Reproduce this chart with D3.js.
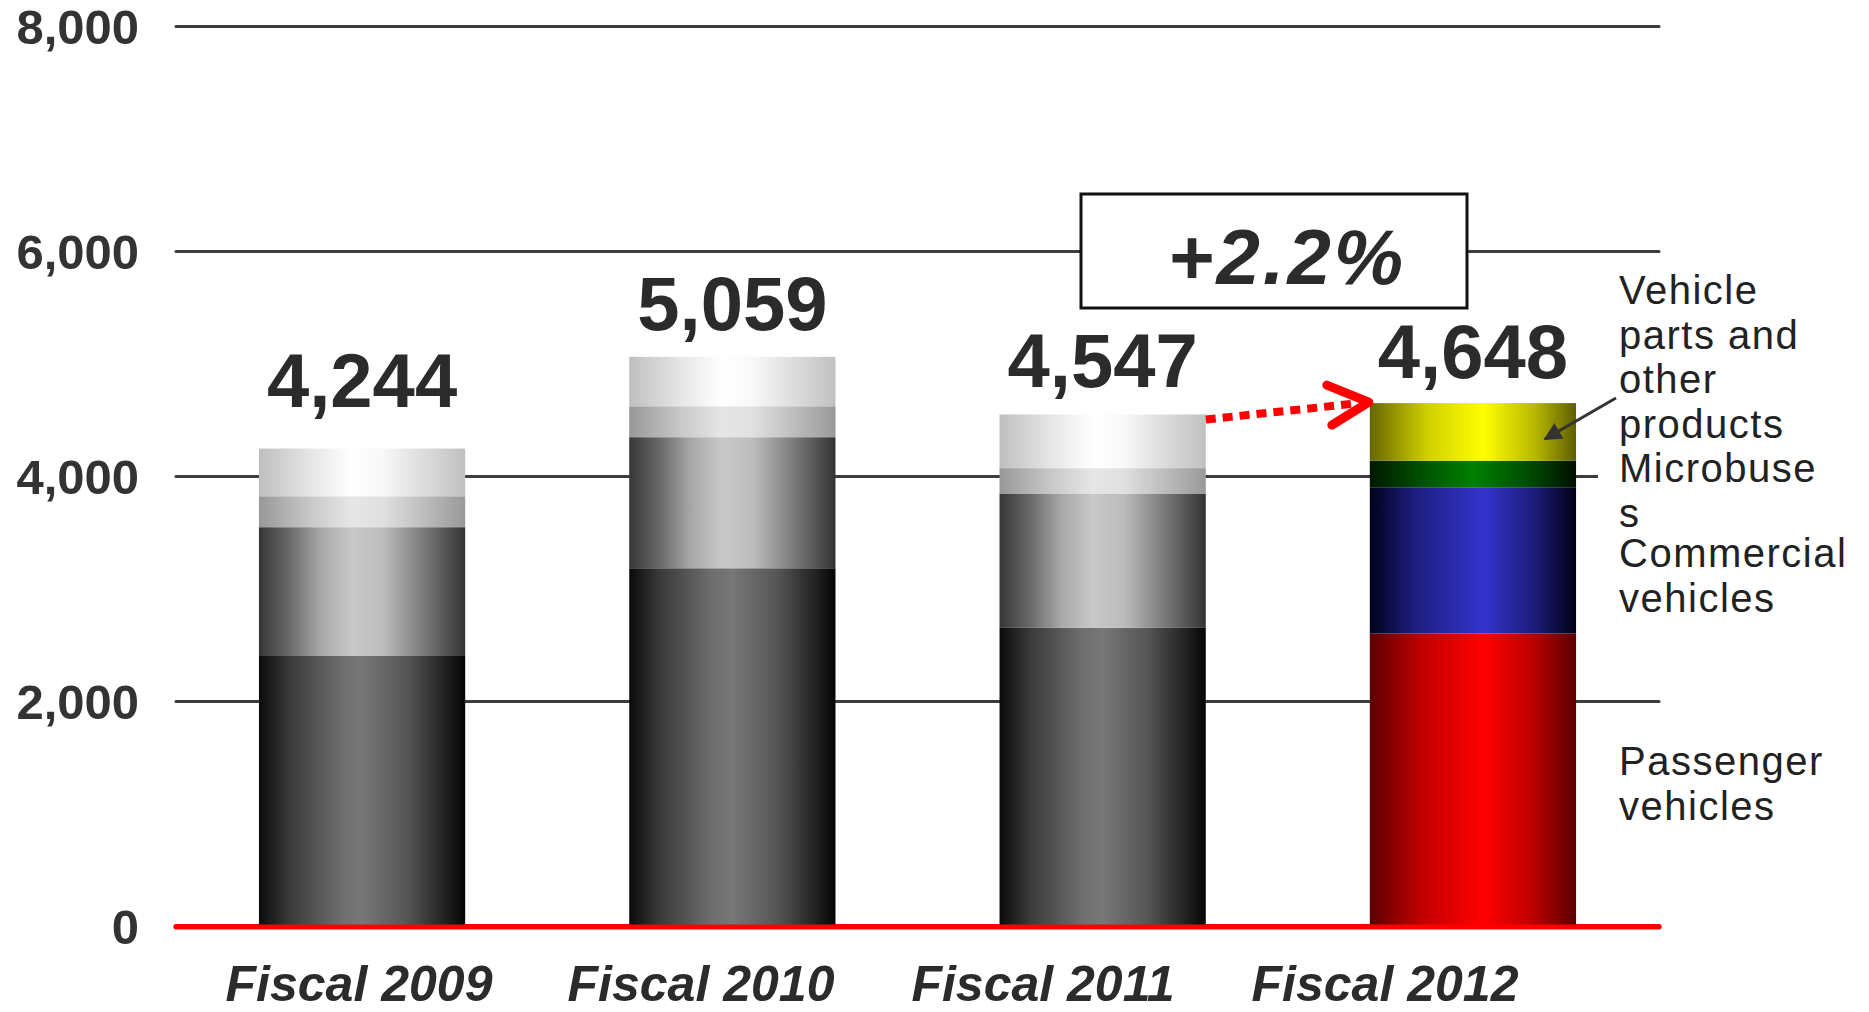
<!DOCTYPE html>
<html>
<head>
<meta charset="utf-8">
<script src="https://cdn.jsdelivr.net/npm/d3@7"></script>
<style>
  html, body { margin: 0; padding: 0; background: #fff; }
  svg { display: block; }
</style>
</head>
<body>
<svg id="chart" width="1869" height="1012"></svg>
<script>
// ---- data ----
const categories = ["Fiscal 2009", "Fiscal 2010", "Fiscal 2011", "Fiscal 2012"];
const passenger  = [2400, 3180, 2650, 2600];
const commercial = [1145, 1165, 1190, 1300];
const microbuses = [275, 275, 230, 235];
const partsOther = [424, 439, 477, 513];
const totalLabels = ["4,244", "5,059", "4,547", "4,648"];
const yTicks = [0, 2000, 4000, 6000, 8000];
const seriesKeys = ["passenger", "commercial", "microbuses", "partsOther"];
const legendLines = [
  ["Vehicle", "parts and", "other", "products"],
  ["Microbuse", "s"],
  ["Commercial", "vehicles"],
  ["Passenger", "vehicles"]
];
const changeLabel = "+2.2%";

// ---- layout ----
const svg = d3.select("#chart");
const W = 1869, H = 1012;
const plotLeft = 176, plotRight = 1659;
const x = d3.scaleBand().domain(categories).range([plotLeft, plotRight])
  .paddingInner(0.443).paddingOuter(0.224);
const xLab = d3.scalePoint().domain(categories).range([359, 1385]);
const y = d3.scaleLinear().domain([0, 8000]).range([926, 26]);
const labelGap = [42, 27, 27, 25]; // gap between bar top and total-label baseline (px)

const rows = categories.map((c, i) => ({
  cat: c, passenger: passenger[i], commercial: commercial[i],
  microbuses: microbuses[i], partsOther: partsOther[i], idx: i
}));
const stacked = d3.stack().keys(seriesKeys)(rows);

// ---- gradients ----
const defs = svg.append("defs");
const gradSpecs = {
  gray_passenger:  [[0,"#0a0a0a"],[0.15,"#3a3a3a"],[0.4,"#6e6e6e"],[0.5,"#777"],[0.72,"#555"],[0.9,"#222"],[1,"#050505"]],
  gray_commercial: [[0,"#363636"],[0.15,"#6a6a6a"],[0.3,"#a8a8a8"],[0.45,"#c8c8c8"],[0.6,"#bdbdbd"],[0.8,"#7a7a7a"],[1,"#333"]],
  gray_microbuses: [[0,"#989898"],[0.25,"#c8c8c8"],[0.45,"#e6e6e6"],[0.6,"#e0e0e0"],[0.8,"#bdbdbd"],[1,"#999"]],
  gray_partsOther: [[0,"#bfbfbf"],[0.25,"#e6e6e6"],[0.45,"#ffffff"],[0.6,"#f8f8f8"],[0.8,"#dcdcdc"],[1,"#c0c0c0"]],
  col_passenger:   [[0,"#5c0000"],[0.25,"#c00000"],[0.55,"#ff0000"],[0.78,"#c00000"],[1,"#5a0000"]],
  col_commercial:  [[0,"#00001a"],[0.22,"#1e1e80"],[0.55,"#3333cc"],[0.8,"#1c1c78"],[1,"#000015"]],
  col_microbuses:  [[0,"#001800"],[0.25,"#005000"],[0.5,"#008000"],[0.75,"#005000"],[1,"#001000"]],
  col_partsOther:  [[0,"#666600"],[0.28,"#d0d000"],[0.55,"#ffff00"],[0.8,"#b8b800"],[1,"#5e5e00"]]
};
Object.entries(gradSpecs).forEach(([id, stops]) => {
  const g = defs.append("linearGradient").attr("id", id)
    .attr("x1", "0%").attr("x2", "100%").attr("y1", "0%").attr("y2", "0%");
  stops.forEach(([o, c]) => g.append("stop").attr("offset", o).attr("stop-color", c));
});
defs.append("marker").attr("id", "ah").attr("viewBox", "0 0 10 10")
  .attr("refX", 9).attr("refY", 5).attr("markerWidth", 6).attr("markerHeight", 6)
  .attr("orient", "auto").attr("markerUnits", "strokeWidth")
  .append("path").attr("d", "M0,0 L10,5 L0,10 z").attr("fill", "#333");

// ---- axis + gridlines ----
const yAxis = d3.axisLeft(y).tickValues(yTicks).tickFormat(d3.format(","))
  .tickSize(-(plotRight - plotLeft)).tickPadding(37);
const ag = svg.append("g").attr("transform", `translate(${plotLeft},0)`).call(yAxis);
ag.select(".domain").remove();
ag.selectAll(".tick line")
  .attr("stroke", d => d === 0 ? "#ff0000" : "#3c3c3c")
  .attr("stroke-width", d => d === 0 ? 5 : 3)
  .attr("stroke-linecap", "round");
ag.selectAll(".tick text")
  .attr("fill", "#333").attr("font-family", "'Liberation Sans', Arial, sans-serif")
  .attr("font-weight", "bold").attr("font-size", 49).attr("dy", "0.36em");

// ---- bars ----
const barG = svg.append("g");
stacked.forEach(layer => {
  barG.selectAll(null).data(layer).join("rect")
    .attr("x", d => x(d.data.cat))
    .attr("width", x.bandwidth())
    .attr("y", d => y(d[1]))
    .attr("height", d => y(d[0]) - y(d[1]))
    .attr("fill", d => `url(#${d.data.idx === 3 ? "col" : "gray"}_${layer.key})`);
});
// keep red zero line on top
svg.append("line").attr("x1", plotLeft).attr("x2", plotRight)
  .attr("y1", y(0) + 1).attr("y2", y(0) + 1)
  .attr("stroke", "#ff0000").attr("stroke-width", 5).attr("stroke-linecap", "round");

// ---- total labels ----
const totals = rows.map(r => r.passenger + r.commercial + r.microbuses + r.partsOther);
svg.append("g").selectAll("text").data(categories).join("text")
  .attr("x", c => x(c) + x.bandwidth() / 2)
  .attr("y", (c, i) => y(totals[i]) - labelGap[i])
  .attr("text-anchor", "middle")
  .attr("font-family", "'Liberation Sans', Arial, sans-serif")
  .attr("font-weight", "bold").attr("font-size", 76).attr("fill", "#2b2b2b")
  .text((c, i) => totalLabels[i]);

// ---- category labels ----
svg.append("g").selectAll("text").data(categories).join("text")
  .attr("x", c => xLab(c)).attr("y", 1001)
  .attr("text-anchor", "middle")
  .attr("font-family", "'Liberation Sans', Arial, sans-serif")
  .attr("font-weight", "bold").attr("font-style", "italic")
  .attr("font-size", 50).attr("fill", "#2b2b2b")
  .text(c => c);

// ---- +2.2% box ----
svg.append("rect").attr("x", 1081).attr("y", 194).attr("width", 386).attr("height", 114)
  .attr("fill", "#fff").attr("stroke", "#111").attr("stroke-width", 3);
svg.append("text").attr("x", 1287).attr("y", 284).attr("text-anchor", "middle")
  .attr("font-family", "'Liberation Sans', Arial, sans-serif")
  .attr("font-weight", "bold").attr("font-style", "italic")
  .attr("font-size", 78).attr("letter-spacing", 3).attr("fill", "#2b2b2b")
  .text(changeLabel);

// ---- dotted red growth arrow ----
const sx = x(categories[2]) + x.bandwidth(), sy = y(totals[2]) + 5;
const tx = x(categories[3]) - 1, ty = y(totals[3]) - 1;
svg.append("line").attr("x1", sx).attr("y1", sy).attr("x2", tx - 14).attr("y2", ty + 1.5)
  .attr("stroke", "#ff0000").attr("stroke-width", 8).attr("stroke-dasharray", "10 7");
svg.append("path")
  .attr("d", `M${tx - 42},${ty - 17} L${tx},${ty} L${tx - 37},${ty + 23}`)
  .attr("fill", "none").attr("stroke", "#ff0000").attr("stroke-width", 9)
  .attr("stroke-linecap", "round").attr("stroke-linejoin", "round");

// ---- legend labels at right ----
const lx = 1619;
const blockY = [304, 482, 567, 775];
// white backing for the microbus label (cuts the 4000 gridline)
svg.append("rect").attr("x", 1598).attr("y", y(4000) - 30).attr("width", W - 1598).attr("height", 90)
  .attr("fill", "#fff");
legendLines.forEach((lines, bi) => {
  const t = svg.append("text").attr("x", lx).attr("y", blockY[bi])
    .attr("font-family", "'Liberation Sans', Arial, sans-serif")
    .attr("font-size", 40).attr("letter-spacing", 1.5).attr("fill", "#222");
  lines.forEach((ln, li) => {
    t.append("tspan").attr("x", lx).attr("dy", li === 0 ? 0 : 44.5).text(ln);
  });
});
// pointer arrow to the parts segment
svg.append("line").attr("x1", 1616).attr("y1", 398).attr("x2", 1545).attr("y2", 439)
  .attr("stroke", "#333").attr("stroke-width", 3).attr("marker-end", "url(#ah)");
</script>
</body>
</html>
